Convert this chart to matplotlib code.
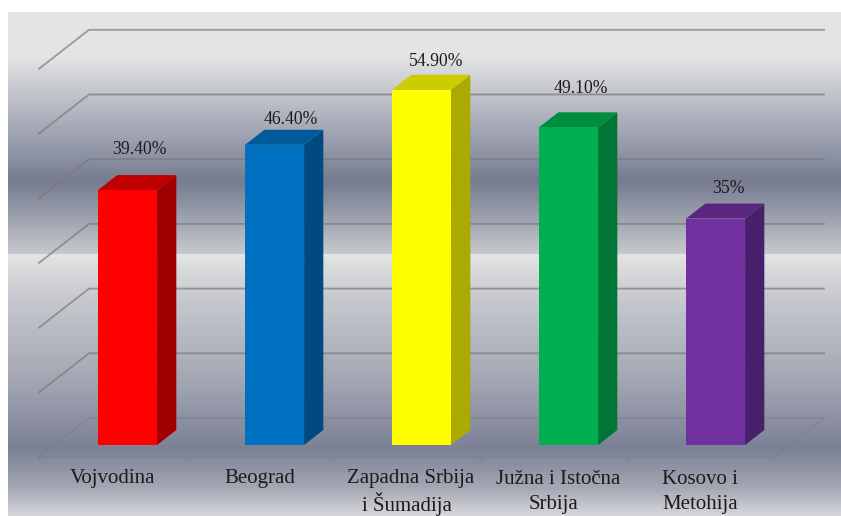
import numpy as np
import matplotlib
matplotlib.use("Agg")
import matplotlib.pyplot as plt
from matplotlib.patches import Polygon
from matplotlib.colors import LinearSegmentedColormap

categories = ["Vojvodina", "Beograd", "Zapadna Srbija\ni Šumadija", "Južna i Istočna\nSrbija", "Kosovo i\nMetohija"]
values = [39.4, 46.4, 54.9, 49.1, 35.0]
value_labels = ["39.40%", "46.40%", "54.90%", "49.10%", "35%"]
front_colors = ["#ff0000", "#0070c0", "#ffff00", "#00b050", "#7030a0"]
top_colors = ["#c00000", "#005a9a", "#cccc00", "#008d40", "#5a2680"]
side_colors = ["#a00000", "#004a80", "#aaaa00", "#007535", "#481f6b"]
grid_values = [0, 10, 20, 30, 40, 50, 60]

W, H = 841, 516
plt.rcParams["font.family"] = ["Liberation Serif", "DejaVu Serif"]
fig = plt.figure(figsize=(W / 100, H / 100), dpi=100, facecolor="white")

# background panel with metallic gradient
stops = [(12, "#e4e4e4"), (55, "#e4e4e4"), (100, "#bcbfc8"), (150, "#9297a8"), (180, "#767b8f"),
         (200, "#8a8fa0"), (254, "#c8c9ce"), (254.01, "#e4e4e4"), (300, "#c6c8ce"),
         (380, "#a4a7b3"), (450, "#7b8095"), (490, "#a6a9b5"), (516, "#d6d6da")]
pos = [(s[0] - 12) / (516 - 12) for s in stops]
cmap = LinearSegmentedColormap.from_list("bg", list(zip(pos, [s[1] for s in stops])), N=1024)
bg = fig.add_axes([8 / W, 0, 1 - 8 / W, 1 - 12 / H])
bg.imshow(np.linspace(0, 1, 252).reshape(-1, 1), aspect="auto", cmap=cmap, interpolation="nearest")
bg.axis("off")

# main axes: x in category units, y in value units
px_per_cat, px_per_val = 147.0, 6.47
x0_px, y0_px = 39.0, 457.0
ax = fig.add_axes([0, 0, 1, 1], facecolor="none")
ax.set_xlim(-x0_px / px_per_cat, (W - x0_px) / px_per_cat)
ax.set_ylim(-(H - y0_px) / px_per_val, y0_px / px_per_val)
ax.axis("off")

DX, DY = 50 / px_per_cat, 39 / px_per_val   # full floor depth in data units
n = len(categories)


def P(x, v, d):
    return (x + d * DX, v + d * DY)


# gridlines
for g in grid_values:
    xs, ys = zip(P(0, g, 0), P(0, g, 1), P(n, g, 1))
    ax.plot(xs, ys, color="#7a7a7a", alpha=0.7 if g else 0.35, lw=1.3, zorder=1, solid_joinstyle="miter")
xs, ys = zip(P(0, 0, 0), P(n, 0, 0), P(n, 0, 1))
ax.plot(xs, ys, color="#7a7a7a", alpha=0.35, lw=1.2, zorder=1)
for i in range(n + 1):
    ax.plot([i, i], [0, -3 / px_per_val], color="#7a7a7a", alpha=0.35, lw=1.0, zorder=1)

# per-label pixel nudges of the annotations, (dx, dy) from the bar's back-top centre
label_nudge = [(-7, 26), (-3, 10), (-5, 13), (-7, 24), (-6, 15)]
first_line_nudge = [0, 0, 4, 5, -1]

d1, d2 = 12 / 39, 27 / 39
half = 59 / px_per_cat / 2
shift = -0.3 / px_per_cat
for i, v in enumerate(values):
    c = i + 0.5 + shift
    l, r = c - half, c + half
    ax.add_patch(Polygon([P(r, 0, d1), P(r, 0, d2), P(r, v, d2), P(r, v, d1)],
                         fc=side_colors[i], ec="none", zorder=2))
    ax.add_patch(Polygon([P(l, v, d1), P(r, v, d1), P(r, v, d2), P(l, v, d2)],
                         fc=top_colors[i], ec="none", zorder=2))
    fx, fy = P(c, 0, d1)
    ax.bar(fx, v, width=2 * half, bottom=fy, color=front_colors[i], zorder=3)
    tx, ty = P(c, v, d2)
    ax.text(tx + label_nudge[i][0] / px_per_cat, ty + label_nudge[i][1] / px_per_val, value_labels[i],
            ha="center", va="center", fontsize=12.7, color="#1c1c1c", zorder=4)
    for k, line in enumerate(categories[i].split("\n")):
        nudge = first_line_nudge[i] if k == 0 else 0
        ax.text(i + 0.5 + nudge / px_per_cat, (-22 - 25 * k) / px_per_val, line, ha="center", va="center",
                fontsize=15, color="#1c1c1c", zorder=4)

fig.savefig("out.png", dpi=100)
